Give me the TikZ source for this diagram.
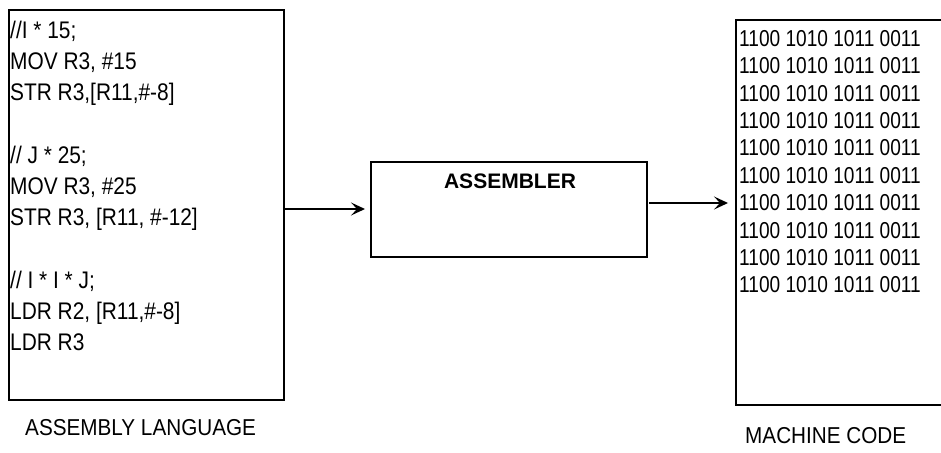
\documentclass[tikz,border=0pt]{standalone}
\usepackage{fontspec}
\setmainfont{Liberation Sans}
\newfontfamily\narrowf{Liberation Sans}[FakeStretch=0.87]
\newfontfamily\narrowc{Liberation Sans}[FakeStretch=0.9]
\newfontfamily\narrowm{Liberation Sans}[FakeStretch=0.83]
\usetikzlibrary{arrows.meta}
\begin{document}
\begin{tikzpicture}[x=1pt,y=-1pt,
  boxline/.style={draw=black,line width=1.6pt},
  codeline/.style={anchor=base west,inner sep=0pt,font=\narrowf\fontsize{24}{24}\selectfont},
  binline/.style={anchor=base west,inner sep=0pt,font=\narrowm\fontsize{23}{23}\selectfont},
  caption/.style={anchor=base west,inner sep=0pt,font=\narrowc\fontsize{23}{23}\selectfont},
  flow/.style={line width=1.6pt,-{Stealth[length=14pt,width=13pt,inset=6pt]}}]
\clip (0,0) rectangle (941,452);
\fill[white] (0,0) rectangle (941,452);
% boxes
\node[boxline,inner sep=0pt,minimum width=275pt,minimum height=390pt,anchor=north west] (asm) at (8,9) {};
\node[boxline,inner sep=0pt,minimum width=276pt,minimum height=95pt,anchor=north west] (assembler) at (370,161) {};
\node[boxline,inner sep=0pt,minimum width=220pt,minimum height=385pt,anchor=north west] (mc) at (735,19) {};
% assembly code
\node[codeline] (c1) at (10,38.5) {//I * 15;};
\node[codeline] (c2) at (10,69.5) {MOV R3, \#15};
\node[codeline] (c3) at (10,100.5) {STR R3,[R11,\#-8]};
\node[codeline] (c4) at (10,163) {// J * 25;};
\node[codeline] (c5) at (10,194) {MOV R3, \#25};
\node[codeline] (c6) at (10,225) {STR R3, [R11, \#-12]};
\node[codeline] (c7) at (10,288) {// I * I * J;};
\node[codeline] (c8) at (10,319) {LDR R2, [R11,\#-8]};
\node[codeline] (c9) at (10,350) {LDR R3};
% assembler label
\node[anchor=base,inner sep=0pt,font=\bfseries\fontsize{21}{21}\selectfont] (asmtext) at (510,188) {ASSEMBLER};
% machine code
\foreach \i in {0,...,9}{
  \node[binline] (b\i) at (739,{46.3+27.4*\i}) {1100 1010 1011 0011};
}
% captions
\node[caption] (cap1) at (25,435) {ASSEMBLY LANGUAGE};
\node[caption] (cap2) at (745,443) {MACHINE CODE};
% arrows
\coordinate (a1s) at (285,209);
\coordinate (a1e) at (365,209);
\coordinate (a2s) at (649,203);
\coordinate (a2e) at (728,203);
\draw[flow] (a1s) -- (a1e);
\draw[flow] (a2s) -- (a2e);
\end{tikzpicture}
\end{document}
